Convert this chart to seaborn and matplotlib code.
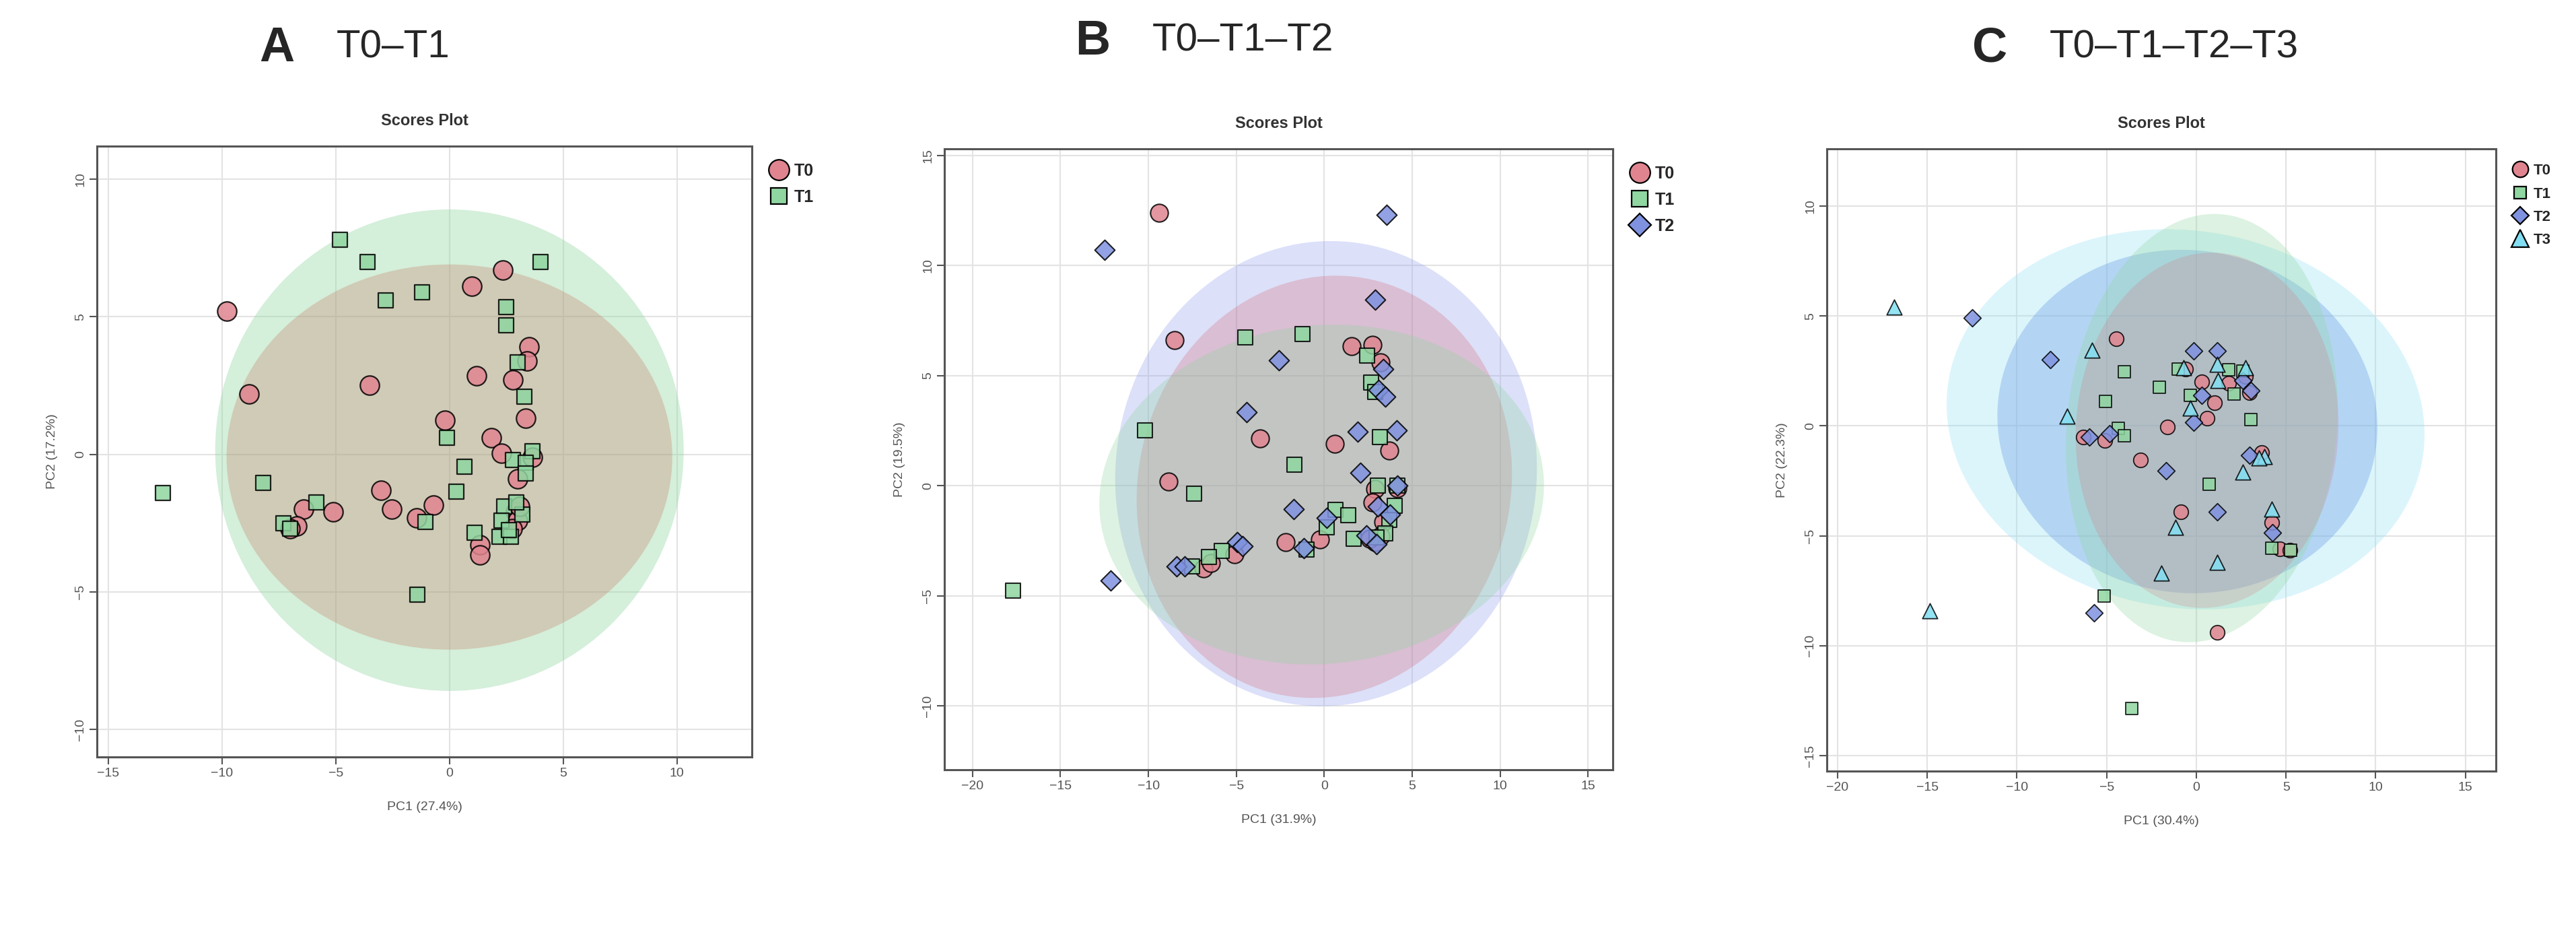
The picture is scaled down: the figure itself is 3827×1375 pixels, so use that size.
import numpy as np
import pandas as pd
import matplotlib
matplotlib.use("Agg")
import matplotlib.pyplot as plt
from matplotlib.patches import Ellipse
from matplotlib.lines import Line2D
import seaborn as sns

sns.set_theme(style="white")
plt.rcParams['font.family'] = ['Liberation Sans', 'DejaVu Sans']

# ---------------- data ----------------
# Panel A
A_T0_x = [-9.8,-8.8,-3.5,1.0,2.35,1.2,2.8,3.5,3.4,3.35,-0.2,1.85,2.3,3.65,3.0,-3.0,-2.55,-0.7,-1.45,-5.1,-6.4,-6.7,-7.0,1.35,1.35,2.9,3.0,2.75,3.1]
A_T0_y = [5.2,2.2,2.5,6.1,6.7,2.85,2.7,3.9,3.4,1.3,1.25,0.6,0.05,-0.1,-0.9,-1.3,-2.0,-1.85,-2.3,-2.1,-2.0,-2.6,-2.7,-3.3,-3.65,-2.1,-2.4,-2.7,-1.9]
A_T1_x = [-4.8,-3.6,-2.8,-1.2,4.0,2.5,2.5,3.0,3.3,-0.1,3.65,2.8,3.35,3.35,0.65,0.3,-8.2,-5.85,-12.6,-7.3,-7.0,-1.05,1.1,-1.4,2.2,2.4,2.3,2.7,2.6,3.2,2.95]
A_T1_y = [7.8,7.0,5.6,5.9,7.0,5.35,4.7,3.35,2.1,0.6,0.1,-0.2,-0.3,-0.7,-0.45,-1.35,-1.05,-1.75,-1.4,-2.5,-2.7,-2.45,-2.85,-5.1,-3.0,-1.9,-2.4,-3.0,-2.75,-2.2,-1.75]
# Panel B
B_T0_x = [-9.4,-8.5,-3.65,-8.85,1.55,2.75,3.2,0.6,3.7,-2.2,-0.25,-5.1,-6.85,-6.45,2.9,2.75,4.15,3.35,3.2,2.9,2.6]
B_T0_y = [12.4,6.6,2.15,0.2,6.35,6.4,5.6,1.9,1.6,-2.55,-2.45,-3.1,-3.75,-3.5,-0.15,-0.75,-0.1,-1.65,-2.3,-2.55,-2.4]
B_T1_x = [-4.5,-1.25,2.45,2.65,2.9,3.15,-10.2,-1.7,-7.4,0.65,1.35,0.15,1.65,-1.0,-5.85,-6.55,-7.5,-17.7,3.05,4.15,4.0,3.7,3.45,2.95]
B_T1_y = [6.75,6.9,5.9,4.7,4.25,2.2,2.5,0.95,-0.35,-1.1,-1.35,-1.9,-2.4,-2.9,-2.95,-3.25,-3.65,-4.75,0.0,0.0,-0.9,-1.55,-2.15,-2.35]
B_T2_x = [-12.5,3.55,2.9,-2.6,3.35,3.1,3.45,-4.4,1.9,4.1,2.05,-1.75,0.15,-1.15,-4.95,-4.65,-8.4,-7.95,-12.15,3.05,3.75,2.4,2.95,4.15]
B_T2_y = [10.7,12.3,8.45,5.7,5.3,4.35,4.05,3.35,2.45,2.5,0.6,-1.05,-1.45,-2.85,-2.55,-2.75,-3.65,-3.65,-4.3,-0.95,-1.3,-2.25,-2.65,0.0]
# Panel C
C_T0_x = [-4.45,-0.6,0.3,1.0,0.6,-1.6,-6.3,-5.1,-3.1,1.8,2.95,-0.85,3.65,4.2,4.65,5.2,1.15,2.75]
C_T0_y = [3.95,2.6,2.0,1.05,0.35,-0.05,-0.5,-0.65,-1.55,1.95,1.5,-3.9,-1.2,-4.4,-5.6,-5.65,-9.4,2.25]
C_T1_x = [-1.0,-4.0,-2.05,-5.05,-4.35,-4.0,-0.35,1.8,2.1,3.05,0.7,4.2,5.25,-5.15,-3.6,2.6]
C_T1_y = [2.6,2.45,1.75,1.1,-0.1,-0.45,1.4,2.55,1.45,0.3,-2.65,-5.55,-5.65,-7.75,-12.85,2.5]
C_T2_x = [-12.5,-8.15,-0.15,1.15,0.3,-0.15,-4.85,-5.95,-1.7,2.95,1.15,4.25,-5.7,2.6,3.05]
C_T2_y = [4.9,3.0,3.4,3.4,1.4,0.15,-0.35,-0.5,-2.05,-1.35,-3.9,-4.85,-8.5,2.05,1.6]
C_T3_x = [-16.85,-14.85,-5.8,-7.2,-0.7,-0.35,1.15,1.2,2.75,3.8,3.5,2.6,4.2,-1.15,-1.95,1.15]
C_T3_y = [5.4,-8.4,3.45,0.45,2.65,0.8,2.8,2.05,2.65,-1.4,-1.45,-2.1,-3.8,-4.6,-6.7,-6.2]

# Confidence ellipses: center x, center y, width, height, angle
A_ell = {"T1": (0.0, 0.15, 20.6, 17.5, 0), "T0": (0.0, -0.1, 19.6, 14.0, 0)}
B_ell = {"T2": (0.1, 0.55, 24.0, 21.1, 5), "T0": (0.0, -0.05, 21.5, 19.0, 15), "T1": (-0.15, -0.4, 25.3, 15.4, 3)}
C_ell = {"T3": (-0.6, 0.3, 26.7, 17.2, -5), "T2": (-0.5, 0.2, 21.2, 15.6, -3),
         "T1": (0.3, -0.1, 15.0, 19.6, -10), "T0": (0.6, -0.2, 14.6, 16.2, -10)}

colors = {"T0": "#e08590", "T1": "#8fd6a0", "T2": "#7f92e0", "T3": "#82def2"}
markers = {"T0": "o", "T1": "s", "T2": "D", "T3": "^"}

W, H = 3827, 1375
fig = plt.figure(figsize=(W/100, H/100), dpi=100)

def box(l, t, r, b):
    return [l/W, 1-b/H, (r-l)/W, (b-t)/H]

panels = [
    dict(rect=box(144, 217, 1117, 1124), xlim=(-15.5, 13.3), ylim=(-11.0, 11.2),
         xt=[-15,-10,-5,0,5,10], yt=[-10,-5,0,5,10], xl="PC1 (27.4%)", yl="PC2 (17.2%)",
         groups={"T0": (A_T0_x, A_T0_y), "T1": (A_T1_x, A_T1_y)}, ell=A_ell,
         ecol={"T1": ("#8fd6a0", 0.38), "T0": ("#c8806a", 0.32)},
         sizes={"T0": 420, "T1": 260}, lw=1.6, leg_ms={"T0": 22, "T1": 17},
         letter="A", title="T0–T1", lx=385, ly=72),
    dict(rect=box(1403, 221, 2396, 1143), xlim=(-21.6, 16.4), ylim=(-12.9, 15.3),
         xt=[-20,-15,-10,-5,0,5,10,15], yt=[-10,-5,0,5,10,15], xl="PC1 (31.9%)", yl="PC2 (19.5%)",
         groups={"T0": (B_T0_x, B_T0_y), "T1": (B_T1_x, B_T1_y), "T2": (B_T2_x, B_T2_y)}, ell=B_ell,
         ecol={"T2": ("#8d9bee", 0.3), "T0": ("#d6707c", 0.3), "T1": ("#8fd6a0", 0.3)},
         sizes={"T0": 360, "T1": 230, "T2": 230}, lw=1.5, leg_ms={"T0": 22, "T1": 17, "T2": 17},
         letter="B", title="T0–T1–T2", lx=1597, ly=62),
    dict(rect=box(2714, 221, 3708, 1145), xlim=(-20.6, 16.7), ylim=(-15.7, 12.6),
         xt=[-20,-15,-10,-5,0,5,10,15], yt=[-15,-10,-5,0,5,10], xl="PC1 (30.4%)", yl="PC2 (22.3%)",
         groups={"T0": (C_T0_x, C_T0_y), "T1": (C_T1_x, C_T1_y), "T2": (C_T2_x, C_T2_y), "T3": (C_T3_x, C_T3_y)},
         ell=C_ell,
         ecol={"T3": ("#8fe0f5", 0.32), "T2": ("#6a9ce6", 0.35), "T1": ("#8fd6a0", 0.3), "T0": ("#d6707c", 0.22)},
         sizes={"T0": 240, "T1": 170, "T2": 170, "T3": 260}, lw=1.3, leg_ms={"T0": 17, "T1": 13, "T2": 13, "T3": 19},
         letter="C", title="T0–T1–T2–T3", lx=2930, ly=72),
]

for p in panels:
    ax = fig.add_axes(p["rect"])
    for g, (cx, cy, w, h, a) in p["ell"].items():
        c, al = p["ecol"][g]
        ax.add_patch(Ellipse((cx, cy), w, h, angle=a, facecolor=c, alpha=al, edgecolor="none", zorder=1))
    frames = []
    for g, (xs, ys) in p["groups"].items():
        frames.append(pd.DataFrame({"x": xs, "y": ys, "g": g}))
    df = pd.concat(frames, ignore_index=True)
    for g in p["groups"]:
        sub = df[df.g == g]
        sns.scatterplot(data=sub, x="x", y="y", marker=markers[g], color=colors[g], s=p["sizes"][g],
                        edgecolor="black", linewidth=p["lw"], alpha=0.85, ax=ax, zorder=3, legend=False)
    ax.set_xlim(*p["xlim"]); ax.set_ylim(*p["ylim"])
    ax.set_xticks(p["xt"]); ax.set_yticks(p["yt"])
    ax.grid(True, color="#e3e3e3", linewidth=1.5, zorder=0)
    ax.set_axisbelow(True)
    for s in ax.spines.values():
        s.set_color("#555555"); s.set_linewidth(2.2)
    ax.tick_params(axis="both", direction="out", length=8, width=1.5, color="#555555",
                   labelsize=14, labelcolor="#555555", bottom=True, left=True)
    plt.setp(ax.get_yticklabels(), rotation=90, va="center")
    ax.set_xlabel(p["xl"], fontsize=14, color="#555555", labelpad=24)
    ax.set_ylabel(p["yl"], fontsize=14, color="#555555", labelpad=18)
    ax.set_title("Scores Plot", fontsize=17, fontweight="bold", color="#333333", pad=22)
    handles = [Line2D([0], [0], marker=markers[g], linestyle="none", markerfacecolor=colors[g],
                      markeredgecolor="black", markeredgewidth=1.6, markersize=p["leg_ms"][g],
                      label=g) for g in p["groups"]]
    ax.legend(handles=handles, loc="upper left", bbox_to_anchor=(1.0, 1.0), frameon=False,
              prop={"weight": "bold", "size": 18 if len(p["groups"]) < 4 else 16},
              handletextpad=0.3, labelspacing=0.6, borderaxespad=0.6, handlelength=1.2)
    fig.text(p["lx"]/W, 1-p["ly"]/H, p["letter"], fontsize=52, fontweight="bold", va="center", ha="left")
    fig.text((p["lx"]+115)/W, 1-(p["ly"]-2)/H, p["title"], fontsize=42, va="center", ha="left")

fig.savefig("out.png", dpi=100, facecolor="white")
